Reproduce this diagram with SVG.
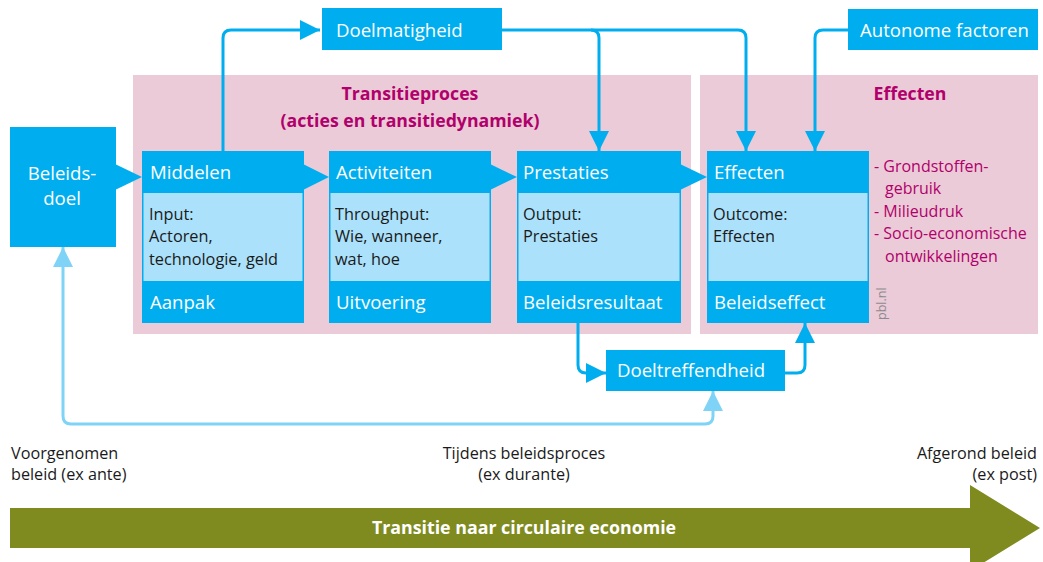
<svg xmlns="http://www.w3.org/2000/svg" width="1043" height="562" viewBox="0 0 1043 562">
<style>
text{font-family:"Open Sans","Noto Sans","DejaVu Sans",sans-serif}
.blue{fill:#00aeef}
.light{fill:#abe1fa}
.pink{fill:#ebcbd8}
.w18{fill:#fff;font-size:18.6px}
.body{fill:#1a1a1a;font-size:16.3px}
.title{fill:#b1006b;font-size:17.7px;font-weight:bold}
.list{fill:#b1006b;font-size:16px}
.lbl{fill:#1a1a1a;font-size:16.2px}
.conn{fill:none;stroke:#00aeef;stroke-width:3}
.connl{fill:none;stroke:#7fd3f7;stroke-width:3}
</style>
<defs>
<marker id="ah" viewBox="0 0 20 20" refX="20" refY="10" markerWidth="20" markerHeight="20" markerUnits="userSpaceOnUse" orient="auto"><path d="M0,0L20,10L0,20Z" fill="#00aeef"/></marker>
<marker id="ahl" viewBox="0 0 20 20" refX="20" refY="10" markerWidth="20" markerHeight="20" markerUnits="userSpaceOnUse" orient="auto-start-reverse"><path d="M0,0L20,10L0,20Z" fill="#7fd3f7"/></marker>
</defs>
<g id="bg-transitie"><rect class="pink" x="133" y="75" width="558" height="259"/>
<text class="title" x="410" y="100" text-anchor="middle">Transitieproces</text>
<text class="title" x="410" y="127" text-anchor="middle">(acties en transitiedynamiek)</text></g>
<g id="bg-effecten"><rect class="pink" x="700" y="75" width="338" height="259"/>
<text class="title" x="910" y="100" text-anchor="middle">Effecten</text>
<text class="list" x="874" y="172">- Grondstoffen-</text>
<text class="list" x="885" y="194">gebruik</text>
<text class="list" x="874" y="217">- Milieudruk</text>
<text class="list" x="874" y="239">- Socio-economische</text>
<text class="list" x="885" y="262">ontwikkelingen</text>
<text x="886" y="320" transform="rotate(-90 886 320)" style="fill:#8a8a8a;font-size:12.5px">pbl.nl</text></g>
<g id="connectors">
<path class="conn" d="M223,151V38Q223,30 231,30H320" marker-end="url(#ah)"/>
<path class="conn" d="M502,30H738Q746,30 746,38V151" marker-end="url(#ah)"/>
<path class="conn" d="M591,30Q599,30 599,38V151" marker-end="url(#ah)"/>
<path class="conn" d="M848,30H823Q815,30 815,38V151" marker-end="url(#ah)"/>
<path class="conn" d="M578,323V365Q578,373 586,373H606" marker-end="url(#ah)"/>
<path class="conn" d="M785,373H797Q805,373 805,365V323" marker-end="url(#ah)"/>
<path class="connl" d="M713,391V416Q713,424 705,424H71Q63,424 63,416V247" marker-start="url(#ahl)" marker-end="url(#ahl)"/>
</g>
<g id="beleidsdoel"><rect class="blue" x="10" y="127" width="106" height="120"/><path class="blue" d="M115,164L142,177L115,190Z"/>
<text class="w18" x="62" y="180" text-anchor="middle">Beleids-</text>
<text class="w18" x="62" y="205" text-anchor="middle">doel</text></g>
<g id="middelen"><rect class="blue" x="142" y="151" width="162" height="172"/><path class="blue" d="M303,164L329,177L303,190Z"/><rect class="light" x="143.5" y="193" width="159" height="88"/>
<text class="w18" x="150" y="179">Middelen</text>
<text class="body" x="149" y="220">Input:</text><text class="body" x="149" y="242">Actoren,</text><text class="body" x="149" y="265">technologie, geld</text>
<text class="w18" x="150" y="309">Aanpak</text></g>
<g id="activiteiten"><rect class="blue" x="329" y="151" width="162" height="172"/><path class="blue" d="M490,164L517,177L490,190Z"/><rect class="light" x="330.5" y="193" width="159" height="88"/>
<text class="w18" x="336" y="179">Activiteiten</text>
<text class="body" x="335" y="220">Throughput:</text><text class="body" x="335" y="242">Wie, wanneer,</text><text class="body" x="335" y="265">wat, hoe</text>
<text class="w18" x="336" y="309">Uitvoering</text></g>
<g id="prestaties"><rect class="blue" x="517" y="151" width="164" height="172"/><path class="blue" d="M680,164L707,177L680,190Z"/><rect class="light" x="518.5" y="193" width="161" height="88"/>
<text class="w18" x="523" y="179">Prestaties</text>
<text class="body" x="523" y="220">Output:</text><text class="body" x="523" y="242">Prestaties</text>
<text class="w18" x="523" y="309">Beleidsresultaat</text></g>
<g id="effecten"><rect class="blue" x="707" y="151" width="162" height="172"/><rect class="light" x="708.5" y="193" width="159" height="88"/>
<text class="w18" x="714" y="179">Effecten</text>
<text class="body" x="713" y="220">Outcome:</text><text class="body" x="713" y="242">Effecten</text>
<text class="w18" x="714" y="309">Beleidseffect</text></g>
<g id="doelmatigheid"><rect class="blue" x="322" y="8" width="180" height="42"/><text class="w18" x="336" y="37">Doelmatigheid</text></g>
<g id="autonome"><rect class="blue" x="848" y="9" width="190" height="41"/><text class="w18" x="860" y="37">Autonome factoren</text></g>
<g id="doeltreffendheid"><rect class="blue" x="606" y="350" width="179" height="41"/><text class="w18" x="617" y="377">Doeltreffendheid</text></g>
<g id="tijdlijn">
<text class="lbl" x="11" y="459">Voorgenomen</text>
<text class="lbl" x="11" y="480">beleid (ex ante)</text>
<text class="lbl" x="524" y="459" text-anchor="middle">Tijdens beleidsproces</text>
<text class="lbl" x="524" y="480" text-anchor="middle">(ex durante)</text>
<text class="lbl" x="1037" y="459" text-anchor="end">Afgerond beleid</text>
<text class="lbl" x="1037" y="480" text-anchor="end">(ex post)</text>
<path d="M10,508H970V485L1040,528L970,571V548H10Z" fill="#7f8b1f"/>
<text x="524" y="534" text-anchor="middle" style="fill:#fff;font-size:17.8px;font-weight:bold">Transitie naar circulaire economie</text>
</g>
</svg>
